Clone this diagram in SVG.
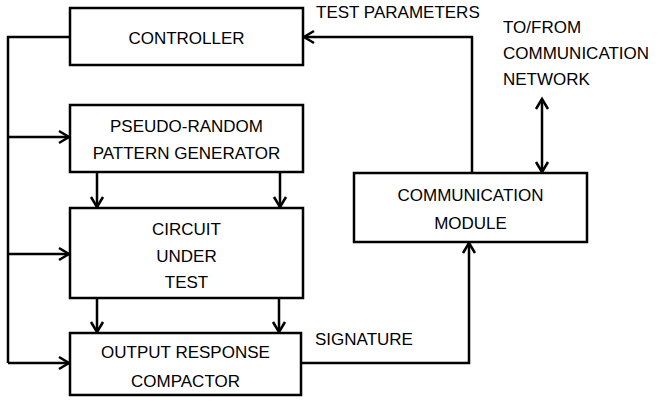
<svg xmlns="http://www.w3.org/2000/svg" width="667" height="403" viewBox="0 0 667 403">
  <style>
    .box { fill: #fff; stroke: #000; stroke-width: 2.5; }
    .wire { fill: none; stroke: #000; stroke-width: 2.5; }
    .lbl { font-family: "Liberation Sans", Arial, sans-serif; font-size: 17px; fill: #000; }
    .c { text-anchor: middle; }
  </style>
  <defs>
    <marker id="arr" markerUnits="userSpaceOnUse" markerWidth="16" markerHeight="16" viewBox="-12 -8 16 16" refX="0" refY="0" orient="auto-start-reverse">
      <path d="M -10 -6 L 0 0 L -10 6" fill="none" stroke="#000" stroke-width="2.5"/>
    </marker>
  </defs>
  <rect width="667" height="403" fill="#fff"/>

  <g id="connectors">
    <!-- control bus on the left -->
    <path class="wire" d="M 70 37 H 8 V 363"/>
    <path class="wire" d="M 8 137 H 69" marker-end="url(#arr)"/>
    <path class="wire" d="M 8 254 H 69" marker-end="url(#arr)"/>
    <path class="wire" d="M 8 363 H 69" marker-end="url(#arr)"/>
    <!-- pattern generator to circuit -->
    <path class="wire" d="M 97 172 V 207" marker-end="url(#arr)"/>
    <path class="wire" d="M 280 172 V 207" marker-end="url(#arr)"/>
    <!-- circuit to compactor -->
    <path class="wire" d="M 97 298 V 332" marker-end="url(#arr)"/>
    <path class="wire" d="M 279 298 V 332" marker-end="url(#arr)"/>
    <!-- test parameters -->
    <path class="wire" d="M 472 173 V 37 H 304" marker-end="url(#arr)"/>
    <!-- signature -->
    <path class="wire" d="M 301 363 H 469 V 243" marker-end="url(#arr)"/>
    <!-- network link -->
    <path class="wire" d="M 542 99 V 172" marker-start="url(#arr)" marker-end="url(#arr)"/>
  </g>

  <g id="controller">
    <rect class="box" x="70" y="8" width="233" height="57"/>
    <text class="lbl c" x="186.5" y="44">CONTROLLER</text>
  </g>
  <g id="pattern-generator">
    <rect class="box" x="70" y="105" width="233" height="67"/>
    <text class="lbl c" x="186.5" y="132">PSEUDO-RANDOM</text>
    <text class="lbl c" x="186.5" y="159">PATTERN GENERATOR</text>
  </g>
  <g id="circuit-under-test">
    <rect class="box" x="70" y="208" width="233" height="90"/>
    <text class="lbl c" x="186.5" y="235">CIRCUIT</text>
    <text class="lbl c" x="186.5" y="262">UNDER</text>
    <text class="lbl c" x="186.5" y="288">TEST</text>
  </g>
  <g id="response-compactor">
    <rect class="box" x="70" y="333" width="231" height="62"/>
    <text class="lbl c" x="185.5" y="358">OUTPUT RESPONSE</text>
    <text class="lbl c" x="185.5" y="387">COMPACTOR</text>
  </g>
  <g id="communication-module">
    <rect class="box" x="354" y="173" width="233" height="69"/>
    <text class="lbl c" x="470.5" y="201">COMMUNICATION</text>
    <text class="lbl c" x="470.5" y="229">MODULE</text>
  </g>

  <g id="labels">
    <text class="lbl" x="316" y="18">TEST PARAMETERS</text>
    <text class="lbl" x="315" y="345">SIGNATURE</text>
    <text class="lbl" x="503" y="33">TO/FROM</text>
    <text class="lbl" x="503" y="59">COMMUNICATION</text>
    <text class="lbl" x="503" y="85">NETWORK</text>
  </g>
</svg>
